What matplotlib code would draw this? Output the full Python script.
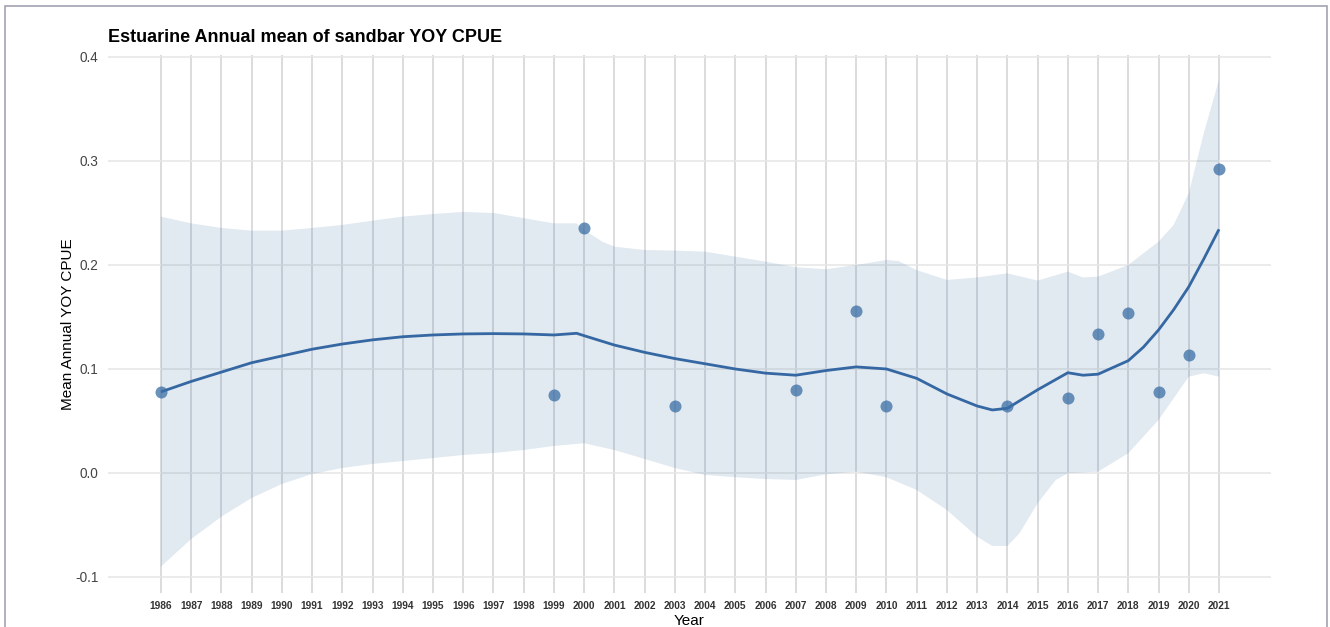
#!/usr/bin/env python3
"""Estuarine annual mean of sandbar YOY CPUE: points, loess-style smooth and its CI band."""
import matplotlib
matplotlib.use("Agg")
import matplotlib.pyplot as plt
from matplotlib.patches import Rectangle

plt.rcParams["font.family"] = ["Liberation Sans", "DejaVu Sans"]

# ── observed annual means ────────────────────────────────────────────────
obs_years = [1986, 1999, 2000, 2003, 2007, 2009, 2010, 2014, 2016, 2017, 2018, 2019, 2020, 2021]
obs_cpue = [0.0782, 0.0753, 0.2359, 0.0647, 0.0798, 0.1561, 0.0647, 0.0644, 0.0718,
            0.1337, 0.1536, 0.0782, 0.1138, 0.2923]

# ── smooth fit ──────────────────────────────────────────────────────────
fit_years = [1986, 1987, 1988, 1989, 1990, 1991, 1992, 1993, 1994, 1995, 1996, 1997, 1998,
             1999, 1999.75, 2000, 2001, 2002, 2003, 2004, 2005, 2006, 2007, 2008, 2009,
             2010, 2011, 2012, 2013, 2013.5, 2014, 2015, 2016, 2016.5, 2017, 2018, 2018.5,
             2019, 2019.5, 2020, 2020.5, 2021]
fit_cpue = [0.078, 0.088, 0.097, 0.106, 0.1125, 0.119, 0.124, 0.128, 0.131, 0.1327, 0.1337,
            0.134, 0.1337, 0.1327, 0.1343, 0.132, 0.123, 0.116, 0.110, 0.105, 0.100, 0.096,
            0.094, 0.0985, 0.102, 0.100, 0.091, 0.076, 0.0644, 0.0606, 0.0622, 0.080, 0.0964,
            0.094, 0.095, 0.108, 0.121, 0.1375, 0.157, 0.179, 0.206, 0.2343]

# ── confidence band edges ───────────────────────────────────────────────
upper_years = [1986, 1987, 1988, 1989, 1990, 1991, 1992, 1993, 1994, 1995, 1996, 1997, 1998,
               1999, 1999.75, 2000, 2000.6, 2001, 2002, 2003, 2004, 2005, 2006, 2007, 2008,
               2009, 2010, 2010.4, 2011, 2012, 2013, 2014, 2015, 2016, 2016.5, 2017, 2018,
               2019, 2019.5, 2020, 2020.5, 2021]
upper_cpue = [0.2465, 0.240, 0.2356, 0.233, 0.233, 0.2356, 0.2385, 0.2426, 0.2465, 0.249,
              0.251, 0.250, 0.245, 0.240, 0.240, 0.2337, 0.2224, 0.2176, 0.2144, 0.2138,
              0.2128, 0.208, 0.2032, 0.1978, 0.1959, 0.200, 0.2048, 0.2038, 0.195, 0.1856,
              0.188, 0.192, 0.185, 0.1936, 0.188, 0.1888, 0.200, 0.2224, 0.2385, 0.269,
              0.327, 0.378]
lower_years = [1986, 1987, 1988, 1989, 1990, 1991, 1992, 1993, 1994, 1995, 1996, 1997, 1998,
               1999, 2000, 2001, 2002, 2003, 2004, 2005, 2006, 2007, 2008, 2009, 2010, 2011,
               2012, 2013, 2013.5, 2014, 2014.4, 2015, 2015.6, 2016, 2017, 2018, 2019, 2020,
               2020.5, 2021]
lower_cpue = [-0.090, -0.0635, -0.042, -0.024, -0.0106, -0.001, 0.0048, 0.0087, 0.0115,
              0.0144, 0.0173, 0.0192, 0.0221, 0.026, 0.0286, 0.0221, 0.0135, 0.0048, -0.0019,
              -0.0041, -0.0058, -0.0067, -0.0013, 0.0013, -0.0041, -0.0163, -0.0356, -0.0613,
              -0.0702, -0.0702, -0.058, -0.0291, -0.0067, -0.0003, 0.0013, 0.019, 0.051,
              0.0926, 0.0959, 0.0926]

tick_years = list(range(1986, 2022))
y_ticks = [-0.1, 0.0, 0.1, 0.2, 0.3, 0.4]

LINE = "#3567a3"
W, H = 1330, 627

fig = plt.figure(figsize=(W / 100, H / 100), dpi=100)
ax = fig.add_axes([108 / W, 1 - 593 / H, (1271 - 108) / W, (593 - 55) / H])

# band (polygon: upper edge left→right, lower edge right→left)
ax.fill(upper_years + lower_years[::-1], upper_cpue + lower_cpue[::-1],
        color="#3a6ea5", alpha=0.15, lw=0, zorder=2)
ax.plot(fit_years, fit_cpue, color=LINE, lw=2.0, solid_capstyle="butt", zorder=3)
ax.scatter(obs_years, obs_cpue, s=75, color="#3a6ea5", alpha=0.75, lw=0, zorder=4)

ax.set_xlim(1984.25, 2022.72)
ax.set_ylim(-0.1154, 0.4019)
ax.set_xticks(tick_years)
ax.set_xticklabels([str(y) for y in tick_years], fontsize=7.3, fontweight="bold", color="#333333")
ax.set_yticks(y_ticks)
ax.set_yticklabels([f"{v:.1f}" for v in y_ticks], fontsize=9.8, color="#444444")
ax.tick_params(axis="both", length=0)
ax.tick_params(axis="x", pad=6)
ax.tick_params(axis="y", pad=7)

ax.set_axisbelow(True)
ax.grid(axis="x", color="#d2d2d6", lw=1.1)
ax.grid(axis="y", color="#e6e6e6", lw=1.1)
for s in ax.spines.values():
    s.set_visible(False)

ax.set_xlabel("Year", fontsize=11, labelpad=2)
ax.set_ylabel("Mean Annual YOY CPUE", fontsize=11, labelpad=0)

fig.text(108 / W, 1 - 37 / H, "Estuarine Annual mean of sandbar YOY CPUE",
         fontsize=13, fontweight="bold", va="center", ha="left")

# thin frame around the whole plot (bottom edge falls off the image)
fig.patches.append(Rectangle((5 / W, -0.02), (1327 - 5) / W, 1 - 6 / H + 0.02,
                             transform=fig.transFigure, fill=False,
                             edgecolor="#a3a3b3", lw=1.2))

fig.savefig("out.png", dpi=100)
